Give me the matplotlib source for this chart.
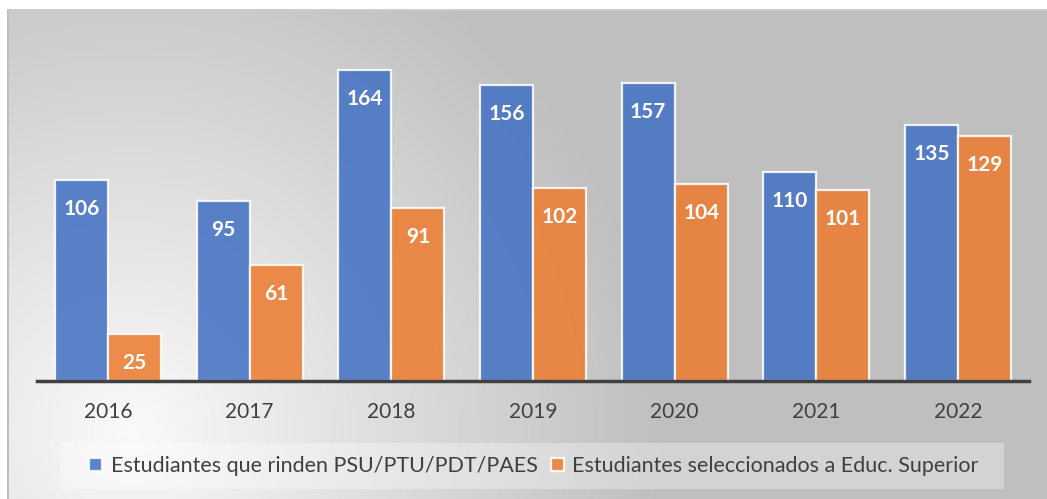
import numpy as np
import matplotlib
matplotlib.use("Agg")
import matplotlib.pyplot as plt
from matplotlib.patches import Rectangle

years = ["2016", "2017", "2018", "2019", "2020", "2021", "2022"]
rinden = [106, 95, 164, 156, 157, 110, 135]
seleccionados = [25, 61, 91, 102, 104, 101, 129]
series_names = ["Estudiantes que rinden PSU/PTU/PDT/PAES",
                "Estudiantes seleccionados a Educ. Superior"]

W, H = 1047, 499
plt.rcParams['font.family'] = ['Lato', 'DejaVu Sans']

fig = plt.figure(figsize=(W / 100, H / 100), dpi=100)

# background gradient
bg = fig.add_axes([0, 0, 1, 1])
yy, xx = np.mgrid[0:H, 0:W]
d = np.sqrt((xx - 130.0) ** 2 + (yy - 430.0) ** 2)
v = np.clip(250 - 0.11 * d, 191, 250) / 255.0
img = np.dstack([v, v, v])
img[:10, :, :] = 1.0
img[:, :7, :] = 1.0
img[9:11, 7:, :] = 0.80
img[10:, 7:9, :] = 0.75
bg.imshow(img, extent=(0, W, H, 0), aspect='auto', interpolation='bilinear')
bg.set_xlim(0, W)
bg.set_ylim(H, 0)
bg.axis('off')

# legend box
fig.patches.append(Rectangle((60 / W, 1 - 489 / H), (1004 - 60) / W, (489 - 443) / H,
                             transform=fig.transFigure, facecolor='white',
                             alpha=0.32, edgecolor='none', zorder=1))

ax_left, ax_right = 37 / W, 1029 / W
ax_bottom = (H - 381) / H
ax_top = (H - 30) / H
ax = fig.add_axes([ax_left, ax_bottom, ax_right - ax_left, ax_top - ax_bottom])
ax.patch.set_alpha(0)

x = np.arange(len(years))
bw = 0.374
blue = '#4472C4'
orange = '#ED7D31'
b1 = ax.bar(x - bw / 2, rinden, bw, color=blue, alpha=0.87, edgecolor='white',
            linewidth=1.6, label=series_names[0])
b2 = ax.bar(x + bw / 2, seleccionados, bw, color=orange, alpha=0.87, edgecolor='white',
            linewidth=1.6, label=series_names[1])
for bars, vals in ((b1, rinden), (b2, seleccionados)):
    for r, val in zip(bars, vals):
        ax.annotate(str(val), (r.get_x() + r.get_width() / 2, r.get_height()),
                    xytext=(0, -29), textcoords='offset pixels',
                    ha='center', va='center', color='white',
                    fontsize=15, fontweight='bold')

ax.set_xlim(-0.5, len(years) - 0.5)
ax.set_ylim(0, 351 / 1.896)
ax.set_xticks(x)
ax.set_xticklabels(years, fontsize=15, color='#404040')
ax.tick_params(axis='x', length=0, pad=15)
ax.set_yticks([])
for s in ['top', 'right', 'left']:
    ax.spines[s].set_visible(False)
ax.spines['bottom'].set_color('#404040')
ax.spines['bottom'].set_linewidth(2.5)

leg = fig.legend(handles=[b1, b2], loc='center', bbox_to_anchor=(534 / W, 1 - 466 / H),
                 ncol=2, frameon=False, fontsize=15.5, labelcolor='#404040',
                 handlelength=0.6, handleheight=0.6, handletextpad=0.4,
                 columnspacing=0.6)

fig.savefig('out.png', dpi=100)
